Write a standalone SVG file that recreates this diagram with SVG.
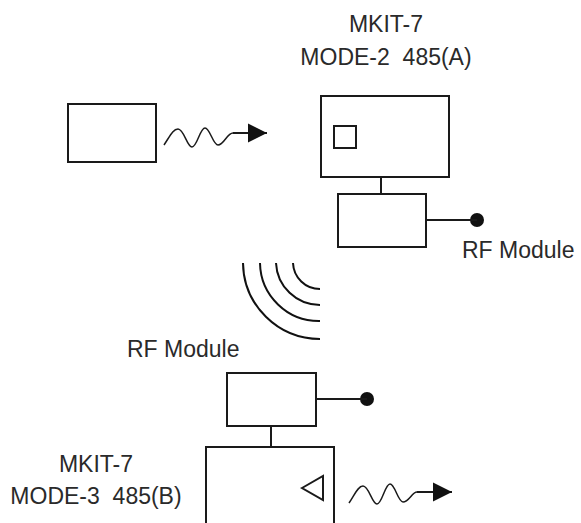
<svg xmlns="http://www.w3.org/2000/svg" width="581" height="523" viewBox="0 0 581 523">
<style>
.box{fill:none;stroke:#1a1a1a;stroke-width:2}
.ln{fill:none;stroke:#1a1a1a;stroke-width:2}
.wave{fill:none;stroke:#1a1a1a;stroke-width:1.5}
.arc{fill:none;stroke:#111;stroke-width:2}
.t{font-family:"Liberation Sans",Arial,sans-serif;font-size:23px;fill:#2a2a2a}
</style>
<defs>
<marker id="ah" markerWidth="19" markerHeight="20" refX="19" refY="10" orient="auto" markerUnits="userSpaceOnUse">
<polygon points="0,0.5 19,10 0,19.5" fill="#111"/>
</marker>
</defs>
<g id="source">
<rect class="box" x="68" y="104" width="88" height="58"/>
</g>
<g id="mkit-a">
<rect class="box" x="321" y="96" width="128" height="81"/>
<rect class="box" x="334" y="126" width="22" height="22"/>
<text class="t" x="386" y="32" text-anchor="middle">MKIT-7</text>
<text class="t" x="386" y="65" text-anchor="middle" xml:space="preserve">MODE-2  485(A)</text>
</g>
<g id="rf-a">
<rect class="box" x="338" y="194" width="88" height="53"/>
<circle cx="477" cy="220" r="7" fill="#111"/>
<text class="t" x="462" y="258">RF Module</text>
</g>
<g id="waves">
<path class="arc" d="M293,263 A27,27 0 0 0 320,289"/>
<path class="arc" d="M276,263 A44,44 0 0 0 320,305"/>
<path class="arc" d="M260,263 A59,59 0 0 0 320,321"/>
<path class="arc" d="M243,263 A77,77 0 0 0 320,339"/>
</g>
<g id="rf-b">
<rect class="box" x="227" y="373" width="89" height="53"/>
<circle cx="367" cy="399" r="7" fill="#111"/>
<text class="t" x="127" y="357">RF Module</text>
</g>
<g id="mkit-b">
<path class="box" d="M206,523 V447 H334 V523"/>
<polygon points="302,488 323,476 323,500" fill="none" stroke="#1a1a1a" stroke-width="2"/>
<text class="t" x="96" y="472" text-anchor="middle">MKIT-7</text>
<text class="t" x="96" y="504" text-anchor="middle" xml:space="preserve">MODE-3  485(B)</text>
</g>
<g id="connectors">
<path class="wave" d="M164,145 C170,136 173,129 178,129 C184,129 187,147 192,147 C197,147 200,128 205,128 C210,128 213,145 218,145 C224,145 227,133 233,133"/>
<line class="ln" x1="233" y1="133" x2="267" y2="133" stroke-width="3.5" marker-end="url(#ah)"/>
<line class="ln" x1="381" y1="177" x2="381" y2="194"/>
<line class="ln" x1="426" y1="220" x2="477" y2="220"/>
<line class="ln" x1="271" y1="426" x2="271" y2="447"/>
<line class="ln" x1="316" y1="399" x2="367" y2="399"/>
<path class="wave" d="M349,503 C355,494 358,486 363,486 C369,486 372,504 377,504 C382,504 385,484 390,484 C395,484 398,502 403,502 C409,502 412,492 417,492"/>
<line class="ln" x1="417" y1="492" x2="452" y2="492" stroke-width="3.5" marker-end="url(#ah)"/>
</g>
</svg>
